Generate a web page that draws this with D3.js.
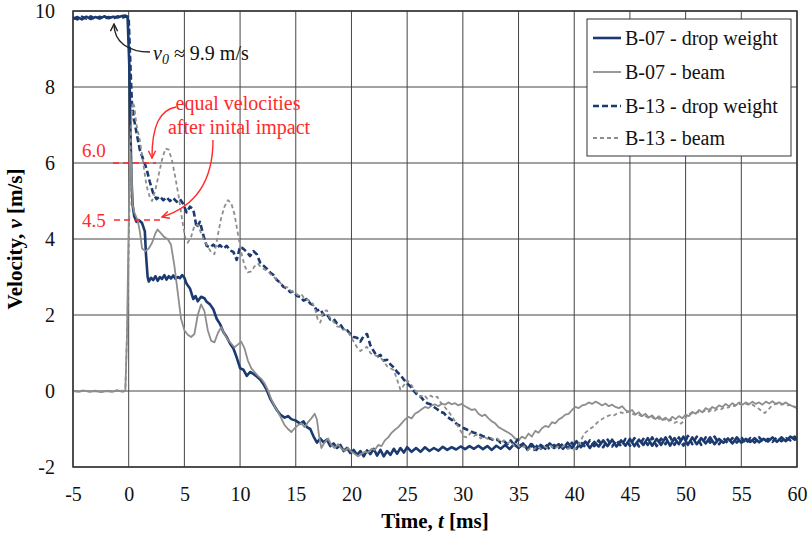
<!DOCTYPE html>
<html>
<head>
<meta charset="utf-8">
<script src="https://cdn.jsdelivr.net/npm/d3@7"></script>
<style>
  body { margin: 0; background: #fff; }
  svg text { font-family: "Liberation Serif", "Times New Roman", serif; }
</style>
</head>
<body>
<div id="chart"></div>
<script>
"use strict";

// x ticks / y ticks
const xTicks = [-5, 0, 5, 10, 15, 20, 25, 30, 35, 40, 45, 50, 55, 60];
const yTicks = [-2, 0, 2, 4, 6, 8, 10];

const seriesNames = ["B-07 - drop weight", "B-07 - beam", "B-13 - drop weight", "B-13 - beam"];

// [t (ms), v (m/s)]
const b07DropWeight = [
  [-5,9.80],[-4.6,9.84],[-4.2,9.78],[-3.8,9.85],[-3.4,9.79],[-3.0,9.84],[-2.6,9.80],[-2.2,9.86],[-1.8,9.81],[-1.4,9.85],[-1.0,9.83],[-0.6,9.87],[-0.3,9.88],[-0.1,9.85],
  [0.05,8.6],[0.15,7.0],[0.25,5.6],[0.35,4.9],[0.5,4.6],[0.7,4.45],[0.9,4.5],[1.2,4.42],[1.45,4.2],[1.55,3.6],[1.7,3.0],[1.8,2.88],
  [2.0,2.98],[2.2,2.92],[2.4,3.02],[2.6,2.9],[2.8,3.0],[3.0,2.95],[3.2,3.05],[3.4,2.93],[3.6,3.02],[3.8,2.96],[4.0,3.04],[4.2,2.95],[4.4,3.0],[4.6,2.97],[4.8,3.05],[5.0,2.98],
  [5.2,2.82],[5.5,2.7],[5.8,2.42],[6.0,2.5],[6.2,2.36],[6.5,2.48],[6.8,2.44],[7.0,2.35],[7.3,2.28],[7.6,2.15],[7.9,1.9],[8.2,1.76],[8.5,1.55],[8.8,1.42],[9.1,1.25],[9.4,1.12],[9.7,0.88],
  [10.0,0.6],[10.3,0.56],[10.6,0.4],[10.9,0.5],[11.2,0.45],[11.5,0.38],[11.8,0.3],[12.1,0.18],[12.4,0.02],[12.7,-0.2],[13.0,-0.35],[13.3,-0.5],[13.6,-0.62],[14.0,-0.7],[14.3,-0.66],[14.6,-0.74],
  [15.0,-0.78],[15.4,-0.86],[15.7,-0.8],[16.0,-0.95],[16.3,-1.0],[16.6,-1.2],[16.9,-1.36],[17.2,-1.25],[17.5,-1.35],[17.8,-1.28],[18.1,-1.45],[18.4,-1.38],[18.7,-1.5],[19.0,-1.42],[19.3,-1.58],[19.6,-1.5],[19.9,-1.63],
  [20.2,-1.55],[20.5,-1.68],[20.8,-1.58],[21.1,-1.72],[21.4,-1.56],[21.7,-1.66],[22.0,-1.52],[22.3,-1.7],[22.6,-1.55],[22.9,-1.72],[23.2,-1.58],[23.5,-1.68],[23.8,-1.52],[24.1,-1.65],[24.4,-1.5],[24.7,-1.62],
  [25.0,-1.48],[25.4,-1.6],[25.8,-1.5],[26.2,-1.6],[26.6,-1.48],[27.0,-1.58],[27.4,-1.5],[27.8,-1.57],[28.2,-1.47],[28.6,-1.55],[29.0,-1.48],[29.4,-1.54],[29.8,-1.46],
  [30.2,-1.53],[30.6,-1.45],[31.0,-1.52],[31.4,-1.44],[31.8,-1.53],[32.2,-1.45],[32.6,-1.55],[33.0,-1.44],[33.4,-1.52],[33.8,-1.42],[34.2,-1.53],[34.6,-1.4],
  [35.0,-1.5],[35.4,-1.38],[35.8,-1.52],[36.2,-1.4],[36.6,-1.55],[37.0,-1.42],[37.4,-1.52],[37.8,-1.38],[38.2,-1.5],[38.6,-1.4],[39.0,-1.52],[39.4,-1.36],[39.8,-1.5],
  [40.2,-1.32],[40.6,-1.48],[41.0,-1.33],[41.4,-1.5],[41.8,-1.34],[42.2,-1.46],[42.6,-1.3],[43.0,-1.45],[43.4,-1.28],[43.8,-1.46],[44.2,-1.3],[44.6,-1.44],
  [45.0,-1.26],[45.4,-1.45],[45.8,-1.28],[46.2,-1.42],[46.6,-1.24],[47.0,-1.44],[47.4,-1.26],[47.8,-1.42],[48.2,-1.22],[48.6,-1.44],[49.0,-1.24],[49.4,-1.4],[49.8,-1.2],
  [50.2,-1.42],[50.6,-1.22],[51.0,-1.4],[51.4,-1.24],[51.8,-1.38],[52.2,-1.22],[52.6,-1.4],[53.0,-1.26],[53.4,-1.36],[53.8,-1.25],[54.2,-1.38],[54.6,-1.22],
  [55.0,-1.36],[55.4,-1.26],[55.8,-1.34],[56.2,-1.24],[56.6,-1.35],[57.0,-1.26],[57.4,-1.33],[57.8,-1.22],[58.2,-1.34],[58.6,-1.22],[59.0,-1.32],[59.4,-1.2],[59.8,-1.28],[60,-1.24]
];

const b07Beam = [
  [-5,0.0],[-4.5,-0.02],[-4,0.01],[-3.5,-0.02],[-3,0.0],[-2.5,-0.03],[-2,0.0],[-1.5,-0.02],[-1,0.01],[-0.5,-0.02],[-0.3,0.0],
  [-0.15,1.5],[-0.05,3.5],[0.05,5.2],[0.15,6.3],[0.25,5.8],[0.35,4.9],[0.5,4.7],[0.8,4.5],[1.0,4.2],[1.2,3.75],[1.5,3.68],[1.8,3.75],[2.1,3.9],[2.4,4.15],[2.6,4.25],[2.9,4.15],
  [3.2,4.05],[3.5,4.0],[3.8,3.85],[4.1,3.3],[4.4,2.6],[4.7,1.9],[5.0,1.6],[5.3,1.48],[5.6,1.42],[5.9,1.5],[6.2,2.0],[6.5,2.28],[6.8,2.1],[7.1,1.6],[7.4,1.32],[7.7,1.28],
  [8.0,1.52],[8.3,1.68],[8.6,1.5],[8.9,1.35],[9.2,1.25],[9.5,1.15],[9.8,1.22],[10.1,1.3],[10.4,1.12],[10.7,0.8],[11.0,0.6],[11.3,0.5],[11.6,0.4],[11.9,0.32],[12.2,0.2],
  [12.5,0.02],[12.8,-0.22],[13.1,-0.4],[13.4,-0.55],[13.7,-0.72],[14.0,-0.9],[14.3,-1.0],[14.6,-1.08],[14.9,-0.98],[15.2,-0.9],[15.5,-0.85],[15.8,-0.95],[16.1,-0.82],[16.4,-0.72],
  [16.7,-0.6],[16.9,-0.75],[17.1,-1.2],[17.3,-1.5],[17.6,-1.35],[17.9,-1.25],[18.2,-1.42],[18.5,-1.5],[18.8,-1.4],[19.1,-1.52],[19.4,-1.58],[19.7,-1.5],[20.0,-1.6],[20.3,-1.66],
  [20.6,-1.72],[20.9,-1.65],[21.2,-1.6],[21.5,-1.62],[21.8,-1.52],[22.1,-1.55],[22.4,-1.42],[22.7,-1.45],[23.0,-1.3],[23.3,-1.22],[23.6,-1.1],[23.9,-1.02],[24.2,-0.95],[24.5,-0.85],
  [24.8,-0.75],[25.1,-0.68],[25.4,-0.72],[25.7,-0.6],[26.0,-0.55],[26.3,-0.48],[26.6,-0.42],[26.9,-0.45],[27.2,-0.38],[27.5,-0.35],[27.8,-0.4],[28.1,-0.33],[28.4,-0.36],[28.7,-0.3],
  [29.0,-0.35],[29.3,-0.32],[29.6,-0.38],[29.9,-0.34],[30.2,-0.4],[30.5,-0.45],[30.8,-0.5],[31.1,-0.48],[31.4,-0.6],[31.7,-0.66],[32.0,-0.62],[32.3,-0.72],[32.6,-0.8],[32.9,-0.85],
  [33.2,-0.95],[33.5,-1.0],[33.8,-1.05],[34.1,-1.1],[34.4,-1.16],[34.7,-1.25],[35.0,-1.3],[35.3,-1.2],[35.6,-1.25],[35.9,-1.12],[36.2,-1.2],[36.5,-1.05],[36.8,-1.1],[37.1,-0.98],
  [37.4,-0.92],[37.7,-0.95],[38.0,-0.82],[38.3,-0.85],[38.6,-0.75],[38.9,-0.7],[39.2,-0.62],[39.5,-0.6],[39.8,-0.5],[40.1,-0.42],[40.4,-0.45],[40.7,-0.38],[41.0,-0.36],[41.3,-0.3],
  [41.6,-0.34],[41.9,-0.28],[42.2,-0.32],[42.5,-0.38],[42.8,-0.33],[43.1,-0.4],[43.4,-0.36],[43.7,-0.42],[44.0,-0.45],[44.3,-0.4],[44.6,-0.5],[44.9,-0.55],[45.2,-0.5],[45.5,-0.62],
  [45.8,-0.56],[46.1,-0.66],[46.4,-0.6],[46.7,-0.7],[47.0,-0.64],[47.3,-0.74],[47.6,-0.66],[47.9,-0.76],[48.2,-0.7],[48.5,-0.78],[48.8,-0.68],[49.1,-0.74],[49.4,-0.66],[49.7,-0.72],
  [50.0,-0.62],[50.3,-0.66],[50.6,-0.55],[50.9,-0.6],[51.2,-0.5],[51.5,-0.56],[51.8,-0.45],[52.1,-0.5],[52.4,-0.42],[52.7,-0.46],[53.0,-0.38],[53.3,-0.42],[53.6,-0.34],[53.9,-0.4],
  [54.2,-0.32],[54.5,-0.38],[54.8,-0.3],[55.1,-0.36],[55.4,-0.3],[55.7,-0.35],[56.0,-0.28],[56.3,-0.34],[56.6,-0.3],[56.9,-0.36],[57.2,-0.28],[57.5,-0.33],[57.8,-0.27],[58.1,-0.34],
  [58.4,-0.3],[58.7,-0.35],[59.0,-0.3],[59.3,-0.36],[59.6,-0.4],[60,-0.45]
];

const b13DropWeight = [
  [-5,9.82],[-4.6,9.78],[-4.2,9.85],[-3.8,9.8],[-3.4,9.86],[-3.0,9.79],[-2.6,9.85],[-2.2,9.8],[-1.8,9.84],[-1.4,9.8],[-1.0,9.86],[-0.6,9.82],[-0.2,9.86],[0.0,9.8],
  [0.1,9.0],[0.2,8.2],[0.3,7.5],[0.45,7.2],[0.7,6.8],[1.0,6.35],[1.3,6.1],[1.6,5.85],[1.9,5.5],[2.2,5.2],[2.5,5.05],[2.8,5.12],[3.1,5.02],[3.4,5.1],[3.7,5.0],[4.0,5.08],
  [4.3,4.98],[4.6,5.05],[4.9,4.92],[5.2,4.7],[5.5,4.85],[5.8,4.78],[6.1,4.3],[6.4,4.45],[6.7,4.1],[7.0,3.82],[7.3,3.78],[7.6,3.85],[7.9,3.76],[8.2,3.84],[8.5,3.75],[8.8,3.82],
  [9.1,3.7],[9.4,3.66],[9.7,3.45],[10.0,3.8],[10.3,3.74],[10.6,3.66],[10.9,3.55],[11.2,3.68],[11.5,3.6],[11.8,3.38],[12.1,3.3],[12.4,3.22],[12.7,3.12],[13.0,3.05],[13.3,2.92],
  [13.6,2.85],[13.9,2.74],[14.2,2.7],[14.5,2.6],[14.8,2.62],[15.1,2.5],[15.4,2.48],[15.7,2.38],[16.0,2.42],[16.3,2.3],[16.6,2.26],[16.9,2.12],[17.2,2.15],[17.5,2.0],[17.8,2.02],
  [18.1,1.88],[18.4,1.9],[18.7,1.78],[19.0,1.75],[19.3,1.62],[19.6,1.6],[19.9,1.5],[20.2,1.42],[20.5,1.4],[20.8,1.3],[21.1,1.45],[21.4,1.5],[21.7,1.2],[22.0,1.05],[22.3,0.9],
  [22.6,0.95],[22.9,0.8],[23.2,0.82],[23.5,0.7],[23.8,0.62],[24.1,0.5],[24.4,0.42],[24.7,0.3],[25.0,0.2],[25.3,0.12],[25.6,0.0],[25.9,-0.1],[26.2,-0.15],[26.5,-0.25],[26.8,-0.32],
  [27.1,-0.35],[27.4,-0.42],[27.7,-0.48],[28.0,-0.55],[28.3,-0.58],[28.6,-0.68],[28.9,-0.74],[29.2,-0.8],[29.5,-0.88],[29.8,-0.92],[30.1,-0.98],[30.4,-1.02],[30.7,-1.06],[31.0,-1.1],
  [31.3,-1.12],[31.6,-1.16],[31.9,-1.2],[32.2,-1.22],[32.5,-1.26],[32.8,-1.3],[33.1,-1.28],[33.4,-1.36],[33.7,-1.32],[34.0,-1.4],[34.3,-1.3],[34.6,-1.42],[34.9,-1.28],[35.2,-1.45],
  [35.5,-1.38],[35.8,-1.55],[36.1,-1.4],[36.4,-1.55],[36.7,-1.42],[37.0,-1.52],[37.4,-1.4],[37.8,-1.54],[38.2,-1.42],[38.6,-1.5],[39.0,-1.38],[39.4,-1.5],[39.8,-1.36],[40.2,-1.52],
  [40.6,-1.34],[41.0,-1.48],[41.4,-1.3],[41.8,-1.45],[42.2,-1.3],[42.6,-1.48],[43.0,-1.28],[43.4,-1.46],[43.8,-1.3],[44.2,-1.45],[44.6,-1.26],[45.0,-1.44],[45.4,-1.24],[45.8,-1.46],
  [46.2,-1.26],[46.6,-1.42],[47.0,-1.22],[47.4,-1.45],[47.8,-1.25],[48.2,-1.4],[48.6,-1.2],[49.0,-1.42],[49.4,-1.22],[49.8,-1.44],[50.2,-1.18],[50.6,-1.4],[51.0,-1.2],[51.4,-1.42],
  [51.8,-1.22],[52.2,-1.36],[52.6,-1.2],[53.0,-1.4],[53.4,-1.24],[53.8,-1.38],[54.2,-1.24],[54.6,-1.36],[55.0,-1.22],[55.4,-1.38],[55.8,-1.24],[56.2,-1.36],[56.6,-1.22],[57.0,-1.35],
  [57.4,-1.26],[57.8,-1.34],[58.2,-1.22],[58.6,-1.32],[59.0,-1.24],[59.4,-1.3],[59.8,-1.2],[60,-1.26]
];

const b13Beam = [
  [-5,0.01],[-4.5,-0.01],[-4,0.02],[-3.5,-0.01],[-3,0.01],[-2.5,-0.02],[-2,0.01],[-1.5,-0.01],[-1,0.02],[-0.5,0.0],[-0.3,0.02],
  [-0.1,2.0],[0.05,4.5],[0.2,6.8],[0.35,7.6],[0.5,7.5],[0.7,7.0],[1.0,6.6],[1.3,6.0],[1.6,5.4],[1.9,5.1],[2.1,5.0],[2.4,5.3],[2.7,5.7],[3.0,6.1],[3.3,6.38],[3.6,6.35],
  [3.9,6.05],[4.2,5.6],[4.5,5.1],[4.8,4.5],[5.1,4.0],[5.3,3.9],[5.6,4.05],[5.9,4.35],[6.2,4.38],[6.5,4.15],[6.8,3.95],[7.1,3.8],[7.4,3.65],[7.7,3.6],[8.0,4.1],[8.3,4.55],
  [8.6,4.85],[8.9,5.02],[9.2,4.95],[9.5,4.65],[9.8,4.15],[10.1,3.65],[10.4,3.3],[10.7,3.12],[11.0,3.15],[11.3,3.28],[11.6,3.35],[11.9,3.25],[12.2,3.2],[12.5,3.15],[12.8,3.05],
  [13.1,2.98],[13.4,2.9],[13.7,2.82],[14.0,2.75],[14.3,2.72],[14.6,2.62],[14.9,2.6],[15.2,2.52],[15.5,2.55],[15.8,2.42],[16.1,2.4],[16.4,2.35],[16.7,2.2],[17.0,1.85],[17.2,1.8],
  [17.5,2.1],[17.8,2.12],[18.1,1.9],[18.4,1.82],[18.7,1.7],[19.0,1.68],[19.3,1.62],[19.6,1.6],[19.9,1.45],[20.2,1.3],[20.5,1.15],[20.8,1.05],[21.1,1.12],[21.4,1.16],[21.7,1.0],
  [22.0,0.95],[22.3,0.92],[22.6,0.88],[22.9,0.78],[23.2,0.65],[23.5,0.6],[23.8,0.55],[24.1,0.3],[24.4,0.03],[24.7,0.15],[25.0,0.28],[25.3,0.2],[25.6,0.05],[25.9,-0.05],
  [26.2,-0.15],[26.5,-0.1],[26.8,-0.2],[27.1,-0.12],[27.4,-0.18],[27.7,-0.15],[28.0,-0.3],[28.3,-0.4],[28.6,-0.5],[28.9,-0.62],[29.2,-0.75],[29.5,-0.9],[29.8,-1.05],[30.1,-1.2],
  [30.4,-1.22],[30.7,-1.1],[31.0,-1.18],[31.3,-1.15],[31.6,-1.25],[31.9,-1.2],[32.2,-1.26],[32.5,-1.22],[32.8,-1.3],[33.1,-1.25],[33.4,-1.35],[33.7,-1.3],[34.0,-1.38],[34.3,-1.32],
  [34.6,-1.45],[34.9,-1.4],[35.2,-1.5],[35.5,-1.45],[35.8,-1.56],[36.1,-1.5],[36.4,-1.54],[36.7,-1.45],[37.0,-1.52],[37.3,-1.46],[37.6,-1.5],[37.9,-1.44],[38.2,-1.52],[38.5,-1.46],
  [38.8,-1.5],[39.1,-1.44],[39.4,-1.52],[39.7,-1.5],[40.0,-1.55],[40.3,-1.45],[40.6,-1.3],[40.9,-1.12],[41.2,-1.05],[41.5,-0.98],[41.8,-0.92],[42.1,-0.82],[42.4,-0.76],[42.7,-0.7],
  [43.0,-0.66],[43.3,-0.62],[43.6,-0.64],[43.9,-0.58],[44.2,-0.56],[44.5,-0.6],[44.8,-0.54],[45.1,-0.58],[45.4,-0.62],[45.7,-0.6],[46.0,-0.66],[46.3,-0.64],[46.6,-0.7],[46.9,-0.66],
  [47.2,-0.74],[47.5,-0.7],[47.8,-0.78],[48.1,-0.74],[48.4,-0.8],[48.7,-0.76],[49.0,-0.84],[49.3,-0.8],[49.6,-0.86],[49.9,-0.75],[50.2,-0.62],[50.5,-0.58],[50.8,-0.6],[51.1,-0.55],
  [51.4,-0.58],[51.7,-0.52],[52.0,-0.56],[52.3,-0.5],[52.6,-0.52],[52.9,-0.46],[53.2,-0.48],[53.5,-0.42],[53.8,-0.44],[54.1,-0.38],[54.4,-0.4],[54.7,-0.33],[55.0,-0.36],[55.3,-0.32],
  [55.6,-0.36],[55.9,-0.34],[56.2,-0.4],[56.5,-0.45],[56.8,-0.52],[57.1,-0.58],[57.4,-0.5],[57.7,-0.4],[58.0,-0.35],[58.3,-0.32],[58.6,-0.36],[58.9,-0.34],[59.2,-0.38],[59.5,-0.36],
  [59.8,-0.42],[60,-0.44]
];

const width = 808, height = 541;
const margin = { top: 11, right: 11, bottom: 74, left: 73 };

const navy = "#1b3a6f", grey = "#8e8e8e", red = "#ff2a2a";

const series = [
  { name: seriesNames[0], data: b07DropWeight, color: navy, width: 2.6, dash: null },
  { name: seriesNames[1], data: b07Beam, color: grey, width: 1.8, dash: null },
  { name: seriesNames[2], data: b13DropWeight, color: navy, width: 2.6, dash: "6,3" },
  { name: seriesNames[3], data: b13Beam, color: grey, width: 1.8, dash: "4,3" }
];

const svg = d3.select("#chart").append("svg")
  .attr("width", width)
  .attr("height", height);

const x = d3.scaleLinear()
  .domain([-5, 60])
  .range([margin.left, width - margin.right]);

const y = d3.scaleLinear()
  .domain([-2, 10])
  .range([height - margin.bottom, margin.top]);

// grid
svg.append("g")
  .selectAll("line")
  .data(xTicks)
  .join("line")
  .attr("x1", d => x(d)).attr("x2", d => x(d))
  .attr("y1", y(-2)).attr("y2", y(10))
  .attr("stroke", "#454545").attr("stroke-width", 1);

svg.append("g")
  .selectAll("line")
  .data(yTicks)
  .join("line")
  .attr("x1", x(-5)).attr("x2", x(60))
  .attr("y1", d => y(d)).attr("y2", d => y(d))
  .attr("stroke", "#454545").attr("stroke-width", 1);

// axes (labels only, no tick marks), plain hyphen for negatives
const xAxis = svg.append("g")
  .attr("transform", "translate(0," + y(-2) + ")")
  .call(d3.axisBottom(x).tickValues(xTicks).tickSize(0).tickPadding(20).tickFormat(d => String(d)));
const yAxis = svg.append("g")
  .attr("transform", "translate(" + x(-5) + ",0)")
  .call(d3.axisLeft(y).tickValues(yTicks).tickSize(0).tickPadding(18).tickFormat(d => String(d)));
[xAxis, yAxis].forEach(a => {
  a.select(".domain").remove();
  a.selectAll("text")
    .attr("font-family", "Liberation Serif")
    .attr("font-size", 20)
    .attr("fill", "#111");
});

// lines
svg.append("clipPath").attr("id", "plot-clip")
  .append("rect")
  .attr("x", x(-5)).attr("y", y(10))
  .attr("width", x(60) - x(-5)).attr("height", y(-2) - y(10));

const line = d3.line().x(d => x(d[0])).y(d => y(d[1]));

svg.append("g")
  .attr("clip-path", "url(#plot-clip)")
  .selectAll("path")
  .data(series)
  .join("path")
  .attr("d", d => line(d.data))
  .attr("fill", "none")
  .attr("stroke", d => d.color)
  .attr("stroke-width", d => d.width)
  .attr("stroke-dasharray", d => d.dash)
  .attr("stroke-linejoin", "round");

// frame
svg.append("rect")
  .attr("x", x(-5)).attr("y", y(10))
  .attr("width", x(60) - x(-5)).attr("height", y(-2) - y(10))
  .attr("fill", "none").attr("stroke", "#333").attr("stroke-width", 1.5);

// axis titles
svg.append("text")
  .attr("x", (x(-5) + x(60)) / 2).attr("y", 528)
  .attr("text-anchor", "middle")
  .attr("font-size", 21).attr("font-weight", "bold")
  .call(t => {
    t.append("tspan").text("Time, ");
    t.append("tspan").attr("font-style", "italic").text("t");
    t.append("tspan").text(" [ms]");
  });

svg.append("text")
  .attr("transform", "translate(22," + ((y(-2) + y(10)) / 2) + ") rotate(-90)")
  .attr("text-anchor", "middle")
  .attr("font-size", 21).attr("font-weight", "bold")
  .call(t => {
    t.append("tspan").text("Velocity, ");
    t.append("tspan").attr("font-style", "italic").text("v");
    t.append("tspan").text(" [m/s]");
  });

// legend
const legend = svg.append("g").attr("transform", "translate(587,19)");
legend.append("rect")
  .attr("width", 204).attr("height", 137)
  .attr("fill", "#fff").attr("stroke", "#333").attr("stroke-width", 1);
const rows = legend.selectAll("g.row")
  .data(series)
  .join("g")
  .attr("class", "row")
  .attr("transform", (d, i) => "translate(0," + [19, 53, 87, 119][i] + ")");
rows.append("line")
  .attr("x1", 6).attr("x2", 34)
  .attr("stroke", d => d.color)
  .attr("stroke-width", d => d.width)
  .attr("stroke-dasharray", d => d.dash);
rows.append("text")
  .attr("x", 38).attr("dy", "0.35em")
  .attr("font-size", 20).attr("fill", "#111")
  .text(d => d.name);

// annotations
const defs = svg.append("defs");
function chevron(id, color) {
  defs.append("marker")
    .attr("id", id)
    .attr("viewBox", "0 0 10 10")
    .attr("refX", 9).attr("refY", 5)
    .attr("markerWidth", 9).attr("markerHeight", 9)
    .attr("markerUnits", "userSpaceOnUse")
    .attr("orient", "auto")
    .append("path")
    .attr("d", "M1,1 L9,5 L1,9")
    .attr("fill", "none").attr("stroke", color).attr("stroke-width", 1.6);
}
chevron("arrow-black", "#222");
chevron("arrow-red", red);

// v0 label
svg.append("path")
  .attr("d", "M150,52 C128,52 114,42 114,24")
  .attr("fill", "none").attr("stroke", "#222").attr("stroke-width", 1.4)
  .attr("marker-end", "url(#arrow-black)");
svg.append("text")
  .attr("x", 153).attr("y", 60)
  .attr("font-size", 20).attr("fill", "#111")
  .call(t => {
    t.append("tspan").attr("font-style", "italic").text("v");
    t.append("tspan").attr("font-style", "italic").attr("font-size", 14).attr("dy", 4).text("0");
    t.append("tspan").attr("dy", -4).text(" \u2248 9.9 m/s");
  });

// red notes
svg.append("text")
  .attr("x", 238).attr("y", 110)
  .attr("text-anchor", "middle")
  .attr("font-size", 20).attr("fill", red)
  .text("equal velocities");
svg.append("text")
  .attr("x", 239).attr("y", 134)
  .attr("text-anchor", "middle")
  .attr("font-size", 20).attr("fill", red)
  .text("after inital impact");

svg.append("text")
  .attr("x", 82).attr("y", 157)
  .attr("font-size", 19).attr("fill", red)
  .text("6.0");
svg.append("text")
  .attr("x", 82).attr("y", 227)
  .attr("font-size", 19).attr("fill", red)
  .text("4.5");

svg.append("line")
  .attr("x1", 113).attr("x2", 156)
  .attr("y1", y(6)).attr("y2", y(6))
  .attr("stroke", red).attr("stroke-width", 1.6).attr("stroke-dasharray", "6,4");
svg.append("line")
  .attr("x1", 114).attr("x2", 160)
  .attr("y1", y(4.5)).attr("y2", y(4.5))
  .attr("stroke", red).attr("stroke-width", 1.6).attr("stroke-dasharray", "6,4");

svg.append("path")
  .attr("d", "M176,107 C160,110 152,125 152,158")
  .attr("fill", "none").attr("stroke", red).attr("stroke-width", 1.4)
  .attr("marker-end", "url(#arrow-red)");
svg.append("path")
  .attr("d", "M213,140 C213,175 200,205 162,217")
  .attr("fill", "none").attr("stroke", red).attr("stroke-width", 1.4)
  .attr("marker-end", "url(#arrow-red)");
</script>
</body>
</html>
